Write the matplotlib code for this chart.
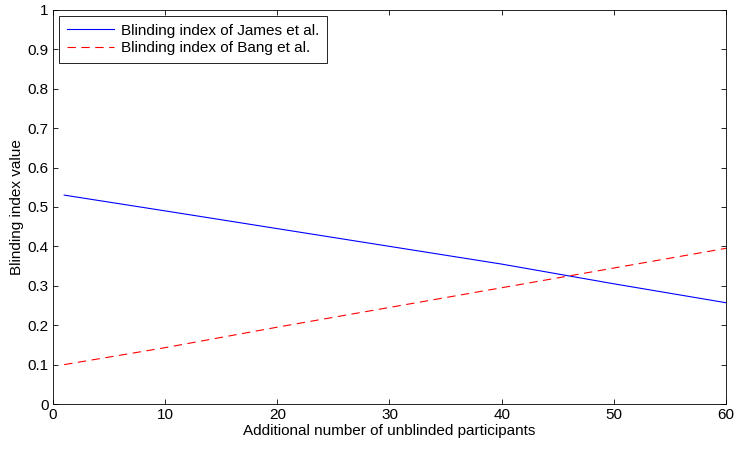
import matplotlib
matplotlib.use('Agg')
import matplotlib.pyplot as plt

# Values at a few x positions
participants = [1, 10, 20, 30, 40, 50, 60]
james_index = [0.530, 0.490, 0.445, 0.400, 0.355, 0.305, 0.257]
bang_index = [0.100, 0.143, 0.195, 0.245, 0.295, 0.345, 0.395]

x_ticks = [0, 10, 20, 30, 40, 50, 60]
y_ticks = [0, 0.1, 0.2, 0.3, 0.4, 0.5, 0.6, 0.7, 0.8, 0.9, 1]
y_tick_labels = ['0', '0.1', '0.2', '0.3', '0.4', '0.5', '0.6', '0.7', '0.8', '0.9', '1']

plt.rcParams['font.family'] = ['Liberation Sans', 'DejaVu Sans']

fig = plt.figure(figsize=(7.39, 4.49), dpi=100)
ax = fig.add_axes([0.0717, 0.1002, 0.9107, 0.8778])

ax.plot(participants, james_index, color='#0000ff', linewidth=0.8,
        label='Blinding index of James et al.')
ax.plot(participants, bang_index, color='#ff0000', linewidth=0.8,
        linestyle=(0, (7.5, 5)), label='Blinding index of Bang et al.')

ax.set_xlim(0, 60)
ax.set_ylim(0, 1)
ax.set_xticks(x_ticks)
ax.set_yticks(y_ticks)
ax.set_yticklabels(y_tick_labels)
ax.tick_params(direction='in', top=True, right=True, length=3.8, width=0.6,
               labelsize=11, pad=3)
for spine in ax.spines.values():
    spine.set_linewidth(0.6)

ax.set_xlabel('Additional number of unblinded participants', fontsize=11, labelpad=1)
ax.set_ylabel('Blinding index value', fontsize=11, labelpad=3)

leg = ax.legend(loc='upper left', fontsize=11, fancybox=False, framealpha=1,
                edgecolor='black', handlelength=3.1, borderpad=0.5,
                labelspacing=0.25, handletextpad=0.45, borderaxespad=0.4)
leg.get_frame().set_linewidth(0.6)

fig.savefig('out.png', dpi=100)
